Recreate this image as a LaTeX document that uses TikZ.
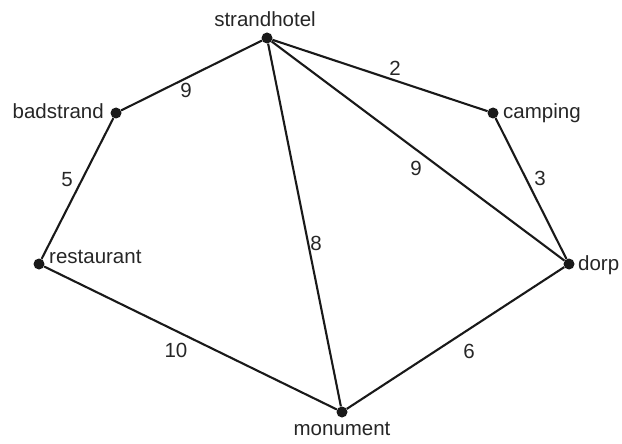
\documentclass[tikz,border=0pt]{standalone}
\usepackage{fontspec}
\setmainfont{Liberation Sans}
\begin{document}
\begin{tikzpicture}[x=1pt,y=-1pt,
  dot/.style={circle,fill=black!90,inner sep=0pt,minimum size=11pt},
  edge/.style={line width=2.1pt,black!90},
  txt/.style={inner sep=0pt,font=\fontsize{20.5}{24}\selectfont,text=black!85},
  wt/.style={inner sep=0pt,font=\fontsize{20.5}{24}\selectfont,text=black!85}]
\useasboundingbox (0,0) rectangle (622,444);
\node[dot] (s) at (267,38) {};
\node[dot] (b) at (116,113) {};
\node[dot] (c) at (493,113) {};
\node[dot] (r) at (39,264) {};
\node[dot] (d) at (569,264) {};
\node[dot] (m) at (342,412) {};
\draw[edge] (s) -- (b);
\draw[edge] (s) -- (c);
\draw[edge] (s) -- (d);
\draw[edge] (s) -- (m);
\draw[edge] (b) -- (r);
\draw[edge] (c) -- (d);
\draw[edge] (r) -- (m);
\draw[edge] (d) -- (m);
\node[txt,anchor=base] (ls) at (265,27) {strandhotel};
\node[txt,anchor=base east] (lb) at (104,119) {badstrand};
\node[txt,anchor=base west] (lc) at (503,119) {camping};
\node[txt,anchor=base west] (lr) at (49,263) {restaurant};
\node[txt,anchor=base west] (ld) at (578,270) {dorp};
\node[txt,anchor=base] (lm) at (342,435) {monument};
\node[wt] (w1) at (186,90) {9};
\node[wt] (w2) at (395,68) {2};
\node[wt] (w3) at (67,180) {5};
\node[wt] (w4) at (540,178) {3};
\node[wt] (w5) at (416,168) {9};
\node[wt] (w6) at (316,243) {8};
\node[wt] (w7) at (176,350) {10};
\node[wt] (w8) at (469,351) {6};
\end{tikzpicture}
\end{document}
